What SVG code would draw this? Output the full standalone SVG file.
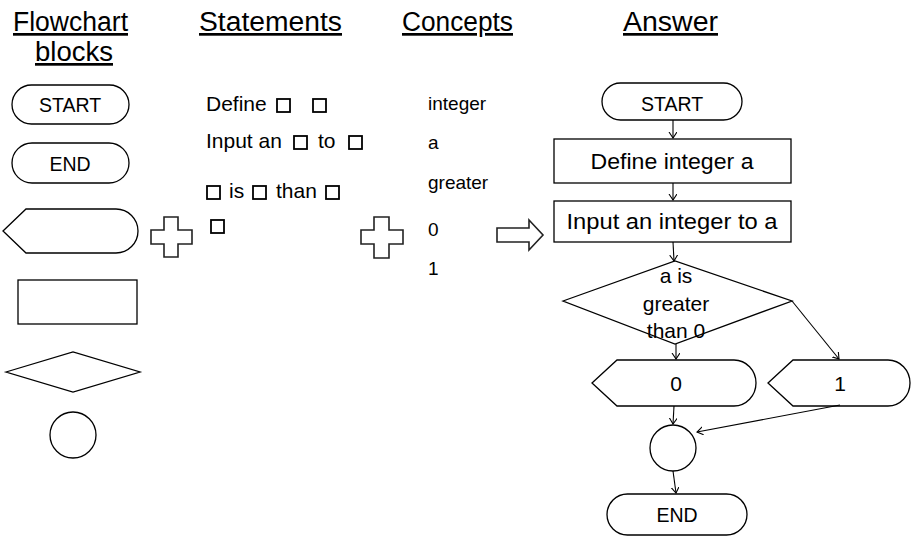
<svg xmlns="http://www.w3.org/2000/svg" width="916" height="538" viewBox="0 0 916 538">
<defs>
<style>
text{font-family:"Liberation Sans",Arial,sans-serif;fill:#000}
.hd{font-size:27px;text-decoration:underline}
.sh{fill:#fff;stroke:#000;stroke-width:1.3}
.bx{fill:none;stroke:#000;stroke-width:1.8}
.st{font-size:21px}
.cc{font-size:19px}
.lb{font-size:19.5px;text-anchor:middle}
.dm{font-size:21px;text-anchor:middle}
.big{font-size:22px;text-anchor:middle}
.ln{fill:none;stroke:#000;stroke-width:1.1;marker-end:url(#ah)}
.pl{fill:#fff;stroke:#222;stroke-width:1.6}
</style>
<marker id="ah" markerWidth="10" markerHeight="10" refX="6" refY="4" orient="auto" markerUnits="userSpaceOnUse">
<polyline points="0,0 6,4 0,8" fill="none" stroke="#000" stroke-width="1.1"/>
</marker>
</defs>
<rect width="916" height="538" fill="#fff"/>

<g id="headers">
<text class="hd" x="13" y="31" textLength="115" lengthAdjust="spacingAndGlyphs">Flowchart</text>
<text class="hd" x="35" y="61" textLength="78" lengthAdjust="spacingAndGlyphs">blocks</text>
<text class="hd" x="199" y="31" textLength="143" lengthAdjust="spacingAndGlyphs">Statements</text>
<text class="hd" x="402" y="31" textLength="111" lengthAdjust="spacingAndGlyphs">Concepts</text>
<text class="hd" x="623" y="31" textLength="95" lengthAdjust="spacingAndGlyphs">Answer</text>
</g>

<g id="block-start">
<rect class="sh" x="12" y="85" width="117" height="39" rx="19.5"/>
<text class="lb" x="70" y="112">START</text>
</g>
<g id="block-end">
<rect class="sh" x="12" y="143" width="117" height="40" rx="20"/>
<text class="lb" x="70" y="171">END</text>
</g>
<g id="block-display">
<path class="sh" d="M3,231 L26,209 H116 A22,22 0 0 1 116,253 H26 Z"/>
</g>
<g id="block-process">
<rect class="sh" x="18" y="280" width="119" height="44"/>
</g>
<g id="block-decision">
<polygon class="sh" points="6,372 73,352 140,372 73,392"/>
</g>
<g id="block-connector">
<circle class="sh" cx="73" cy="435" r="23"/>
</g>

<g id="plus1">
<path class="pl" d="M164,217 H178 V230 H192 V244 H178 V257 H164 V244 H151 V230 H164 Z"/>
</g>
<g id="plus2">
<path class="pl" d="M374,217 H389 V230 H403 V244 H389 V258 H374 V244 H361 V230 H374 Z"/>
</g>
<g id="big-arrow">
<path class="pl" d="M497,228 H529 V220 L543,235 L529,250 V242 H497 Z" stroke-width="1.3"/>
</g>

<g id="statements">
<text class="st" x="206" y="111">Define</text>
<rect class="bx" x="277" y="99" width="13" height="13"/>
<rect class="bx" x="313" y="99" width="13" height="13"/>
<text class="st" x="206" y="148">Input an</text>
<rect class="bx" x="294" y="136" width="13" height="13"/>
<text class="st" x="318" y="148">to</text>
<rect class="bx" x="349" y="136" width="13" height="13"/>
<rect class="bx" x="207" y="186" width="13" height="13"/>
<text class="st" x="229" y="198">is</text>
<rect class="bx" x="253" y="186" width="13" height="13"/>
<text class="st" x="276" y="198">than</text>
<rect class="bx" x="326" y="186" width="13" height="13"/>
<rect class="bx" x="211" y="220" width="13" height="13"/>
</g>

<g id="concepts">
<text class="cc" x="428" y="110">integer</text>
<text class="cc" x="428" y="149">a</text>
<text class="cc" x="428" y="189">greater</text>
<text class="cc" x="428" y="236">0</text>
<text class="cc" x="428" y="275">1</text>
</g>

<g id="ans-start">
<rect class="sh" x="602" y="83" width="140" height="37" rx="18.5"/>
<text class="lb" x="672" y="111">START</text>
</g>
<g id="ans-define">
<rect class="sh" x="554" y="139" width="237" height="44"/>
<text class="big" x="672" y="169" textLength="163" lengthAdjust="spacingAndGlyphs">Define integer a</text>
</g>
<g id="ans-input">
<rect class="sh" x="554" y="201" width="237" height="41"/>
<text class="big" x="672" y="229" textLength="211" lengthAdjust="spacingAndGlyphs">Input an integer to a</text>
</g>
<g id="ans-decision">
<polygon class="sh" points="563,301 675,261 792,301 675,344"/>
<text class="dm" x="676" y="283">a is</text>
<text class="dm" x="676" y="311">greater</text>
<text class="dm" x="676" y="338">than 0</text>
</g>
<g id="ans-out0">
<path class="sh" d="M592,383 L617,360 H734 A22,23 0 0 1 734,406 H617 Z"/>
<text class="dm" x="676" y="391">0</text>
</g>
<g id="ans-out1">
<path class="sh" d="M768,383 L793,360 H888 A22,23 0 0 1 888,406 H793 Z"/>
<text class="dm" x="840" y="391">1</text>
</g>
<g id="ans-join">
<circle class="sh" cx="673" cy="448" r="23"/>
</g>
<g id="ans-end">
<rect class="sh" x="607" y="494" width="140" height="41" rx="20.5"/>
<text class="lb" x="677" y="522">END</text>
</g>

<g id="connectors">
<line class="ln" x1="673" y1="120" x2="673" y2="138"/>
<line class="ln" x1="673" y1="183" x2="673" y2="200"/>
<line class="ln" x1="673" y1="242" x2="674" y2="261"/>
<line class="ln" x1="676" y1="344" x2="676" y2="359"/>
<line class="ln" x1="792" y1="301" x2="839" y2="359"/>
<line class="ln" x1="674" y1="406" x2="673" y2="424"/>
<line class="ln" x1="840" y1="405" x2="697" y2="432"/>
<line class="ln" x1="673" y1="471" x2="676" y2="493"/>
</g>
</svg>
